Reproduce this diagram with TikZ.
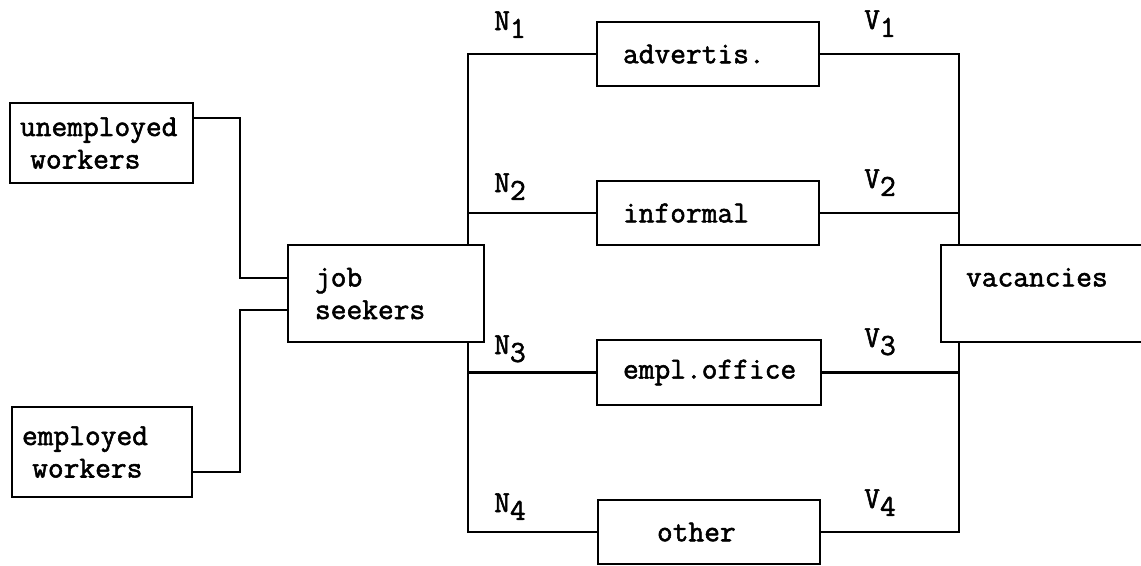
\documentclass[tikz,border=0pt]{standalone}
\usepackage{fontspec}
\setmonofont{Latin Modern Mono}[AutoFakeBold=1.8]
\newcommand\lowsub[1]{\raisebox{-4.5pt}{#1}}
\begin{document}
\begin{tikzpicture}[x=0.02cm, y=-0.02cm, line width=1.4pt, box node/.style={rectangle,draw,inner sep=0pt,font=\ttfamily\bfseries\fontsize{17.4}{18.5}\selectfont,align=left}, lab node/.style={anchor=base west,inner sep=0pt,font=\ttfamily\bfseries\fontsize{17.4}{18.5}\selectfont}]%
\useasboundingbox (0,0) rectangle (1141,565);
\coordinate (lt) at (468,0);
\coordinate (rt) at (959,0);
\begin{scope}[every node/.style={box node}]
\node[inner xsep=0.2cm, text width=3.26cm, minimum height=1.6cm] (unemp) at (101.5,143) {unemployed\\~workers};
\node[inner xsep=0.2cm, text width=3.2cm, minimum height=1.8cm] (emp) at (102,452) {employed\\~workers};
\node[inner xsep=0.54cm, text width=2.84cm, minimum height=1.94cm] (seek) at (386,293.5) {job\\seekers};
\node[inner xsep=0.52cm, text width=3.4cm, minimum height=1.28cm] (adv) at (708,54) {advertis.};
\node[inner xsep=0.52cm, text width=3.4cm, minimum height=1.28cm] (inf) at (708,213) {informal};
\node[inner xsep=0.52cm, text width=3.44cm, minimum height=1.3cm] (off) at (709,372.5) {empl.office};
\node[inner xsep=1.18cm, text width=2.08cm, minimum height=1.28cm] (oth) at (709,532) {other};
\node[inner xsep=0.5cm, text width=4.2cm, minimum height=1.94cm] (vac) at (1071,293.5) {vacancies\\~};
%\node (x) at (,) {};
\end{scope}
\begin{scope}[every node/.style={lab node}]
\node (n1) at (493,30) {N\lowsub{1}};
\node (n2) at (493,192) {N\lowsub{2}};
\node (n3) at (493,354) {N\lowsub{3}};
\node (n4) at (493,512) {N\lowsub{4}};
\node (v1) at (863,29) {V\lowsub{1}};
\node (v2) at (863,188) {V\lowsub{2}};
\node (v3) at (863,347) {V\lowsub{3}};
\node (v4) at (863,508) {V\lowsub{4}};
\end{scope}
\begin{scope}
\draw (unemp.east |- 0,118) -| (240,278) -- (seek.west |- 0,278);
\draw (emp.east |- 0,472) -| (240,310) -- (seek.west |- 0,310);
\draw (seek.north -| lt) |- (adv.west);
\draw (inf.west -| lt) -- (inf.west);
\draw (off.west -| lt) -- (off.west);
\draw (seek.south -| lt) |- (oth.west);
\draw (adv.east) -| (vac.north -| rt);
\draw (inf.east) -- (inf.east -| rt);
\draw (off.east) -- (off.east -| rt);
\draw (vac.south -| rt) |- (oth.east);
%\draw (x) -- (x);
\end{scope}
\end{tikzpicture}
\end{document}
